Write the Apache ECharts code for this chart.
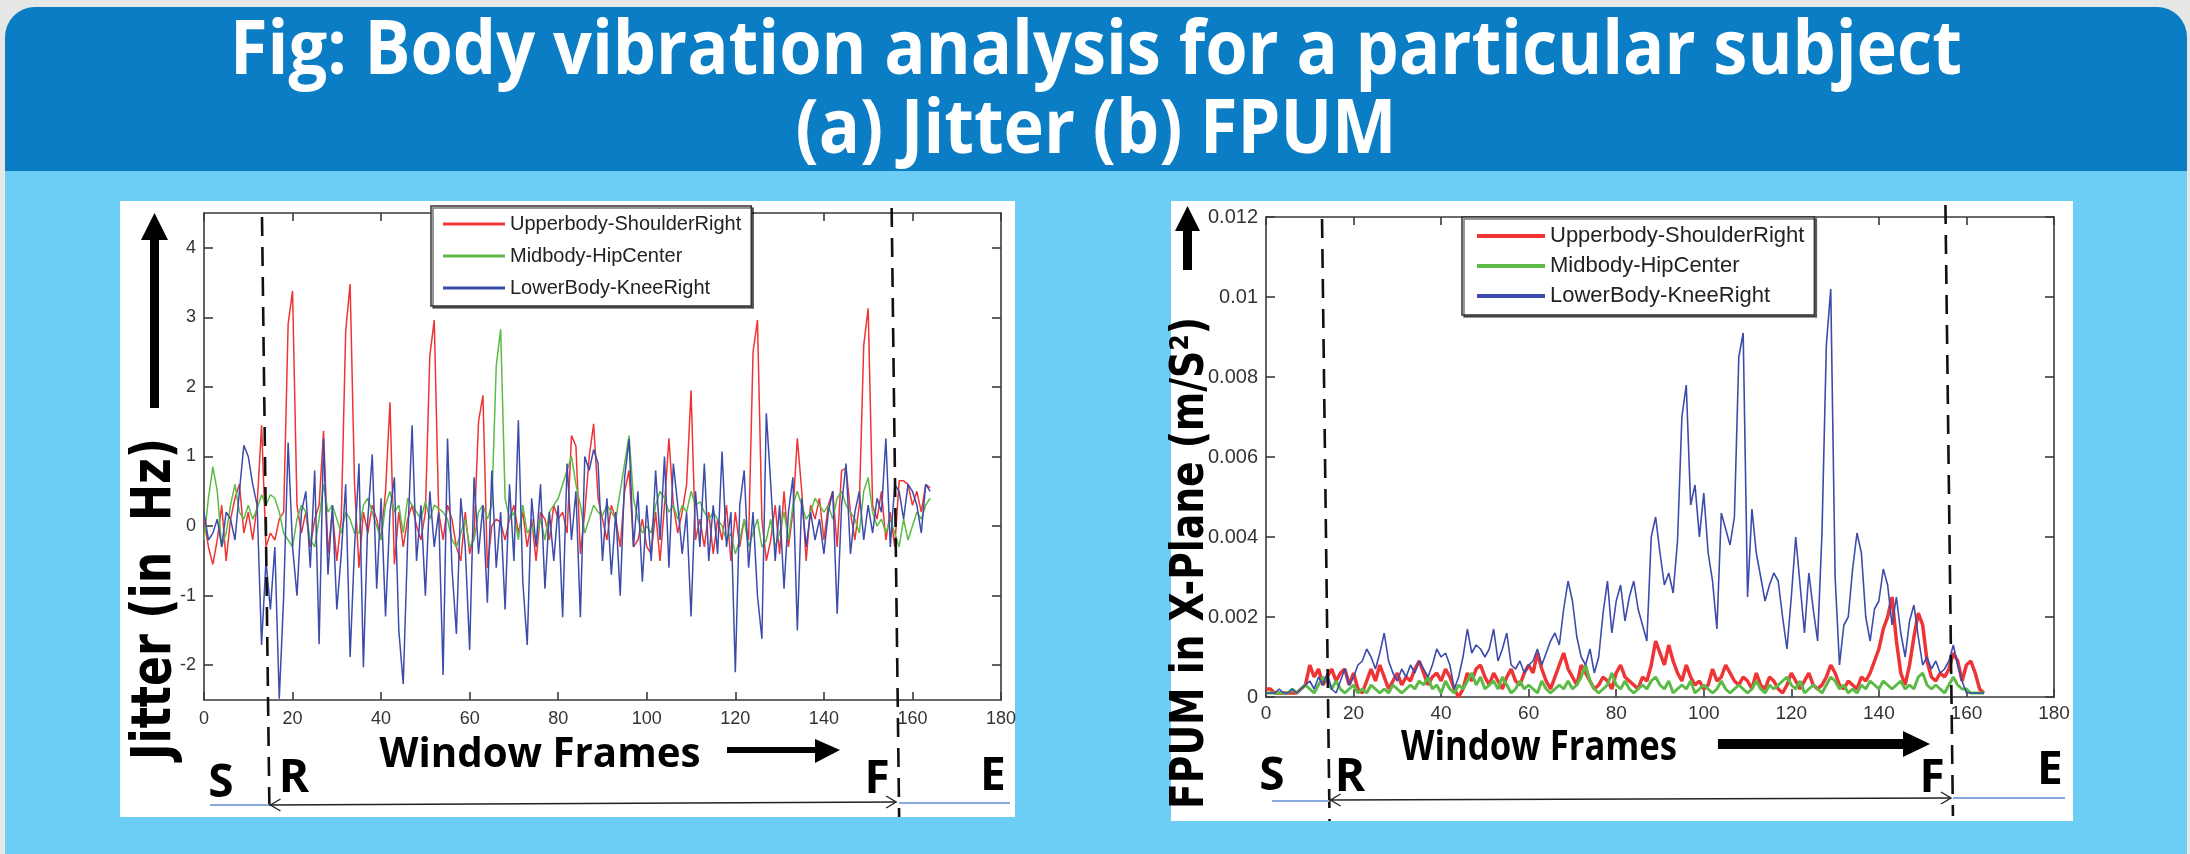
<!DOCTYPE html>
<html><head><meta charset="utf-8">
<script src="https://cdn.jsdelivr.net/npm/echarts@6/dist/echarts.min.js"></script>
<style>html,body{margin:0;padding:0;background:#e6e7e7;}#c{width:2190px;height:854px;}</style>
</head><body><div id="c"></div>
<script>
const seriesNames = ['Upperbody-ShoulderRight', 'Midbody-HipCenter', 'LowerBody-KneeRight'];
const seriesColors = ['#ee3434', '#5cba46', '#3c4cab'];
const xTicks = [0, 20, 40, 60, 80, 100, 120, 140, 160, 180];
const jitterTicks = [-2, -1, 0, 1, 2, 3, 4];
const fpumTicks = [0, 0.002, 0.004, 0.006, 0.008, 0.01, 0.012];
const jitterPhase = [13.1, 155.3];   // R and F frames
const fpumPhase = [12.8, 155.2];

const jitterUpper = [
0.1,-0.3,-0.55,-0.2,0.3,-0.5,0.1,0.4,0.6,-0.1,
0.2,-0.2,0.3,1.45,-0.3,-0.1,-0.2,0.1,0.2,2.9,
3.38,0.3,-0.1,0.2,-0.3,0.1,0.3,1.37,-0.4,0.2,
-0.5,0.1,2.8,3.48,0.6,-0.6,0.2,-0.1,0.3,0.1,
-0.2,0.5,1.78,-0.55,0.2,-0.3,0.1,0.3,0,-0.2,
0.2,2.45,2.96,0.2,-0.2,0.3,0.1,-0.3,-0.5,0.2,
-0.4,-0.1,1.5,1.88,-0.6,0,0.1,0.05,-0.2,0.1,
0.3,-0.1,0.2,-0.3,0.1,-0.5,0.2,0.1,-0.2,0.3,
0.1,0.2,-0.1,1.3,1.15,-0.4,0.2,1.0,1.47,0.4,
0.1,-0.2,0.3,0.1,-0.3,0.5,0.8,-0.3,-0.2,0.1,
-0.3,-0.4,0.2,-0.5,0.3,1.26,0.3,-0.1,0.2,0.6,
1.95,-0.2,0.1,-0.3,0.2,-0.4,0.1,-0.2,0.3,-0.5,
0.2,-0.3,0.1,-0.2,2.5,2.96,0.1,-0.5,-0.2,0.3,
-0.4,0.5,-0.3,0.2,1.26,0.5,-0.5,0.3,0.1,0.4,
-0.2,0.3,0.5,-0.3,0.8,0.83,0.2,-0.2,0.3,2.6,
3.13,0.3,0.1,0.5,-0.2,0.2,-0.3,0.65,0.65,0.6,
0.3,0.5,0.2,0.6,0.55];
const jitterMid = [
-0.2,0.4,0.85,0.5,-0.3,-0.1,0.3,0.6,0.2,0.1,
0.3,0.1,0.25,0.45,0.3,0.45,0.4,0.2,-0.1,-0.2,
-0.3,0.1,0.3,0.2,-0.2,-0.3,0.1,0.6,0.2,0.3,
0.1,-0.1,0.2,0.1,-0.1,-0.1,0.3,0.4,0.2,0,
-0.2,0.3,0.5,0.2,0.3,-0.1,0.4,0.3,0.2,0.1,
0.35,0.1,0.3,0.25,0.2,0.1,-0.2,-0.3,-0.1,0.1,
-0.3,-0.2,0.2,0.3,0.1,0.3,2.3,2.83,0.4,0.1,
0.2,-0.2,0.3,-0.1,0,-0.2,0.1,-0.2,0.2,0.3,
0.4,0.6,0.8,1.0,0.6,0.3,-0.1,0.1,0.3,0.2,
0.15,0.3,0.2,0.1,0.5,0.9,1.3,0.4,0.1,-0.1,
0,-0.1,0.3,0.5,0.4,0.2,0.3,0.1,0.3,0.2,
0.5,0.3,0.35,0.2,0.1,0.2,0.1,0,-0.2,-0.1,
-0.4,-0.2,0.1,-0.3,-0.1,0.1,-0.3,-0.2,0.1,-0.3,
-0.1,0.2,-0.2,0.3,0.5,0.3,0.1,0.2,0.4,0.3,
0.2,0.3,0.1,0.4,0.5,0.3,0.2,0.1,-0.1,0.5,
0.7,0.2,0,0.1,-0.1,0.1,-0.1,-0.3,0.1,-0.2,
0,0.2,0.1,0.3,0.4];
const jitterLower = [
0.2,-0.2,-0.1,0.1,-0.3,0.2,0.1,-0.2,0.5,1.16,
1.0,0.6,0.3,-1.71,-0.5,-1.2,-0.3,-2.48,-1.0,1.2,
-0.3,-1.0,0.2,0.5,-0.6,0.8,-1.7,1.26,-0.7,0.3,
-1.2,-0.4,0.6,-1.88,-0.3,0.9,-2.03,0.1,1.03,-0.9,
0.4,-1.3,0.2,0.7,-1.5,-2.27,-0.2,1.45,-0.5,0.3,
-1.0,0.5,-0.3,0.2,-2.14,1.26,-0.6,-1.55,0.4,-0.3,
-1.78,0.7,-0.4,0.3,-1.1,0.8,-0.6,0.2,-1.2,0.6,
-0.5,1.52,-0.8,-1.71,0.4,-0.3,0.6,-0.9,0.2,-0.5,
0.3,-1.31,0.9,-0.2,0.5,-1.31,1.0,0.8,1.1,0.9,
-0.5,0.4,-0.7,0.2,-1.0,0.7,1.25,-0.3,0.5,-0.8,
0.3,-0.5,0.8,-0.2,1.0,-0.6,0.9,0.3,-0.4,0.2,
-1.3,0.5,-0.3,0.9,-0.5,0.3,-0.4,1.07,-0.3,0.2,
-2.1,0.3,0.8,-0.6,0.2,-1.0,-1.62,1.62,0.6,-0.5,
0.3,-0.9,0.2,0.7,-1.5,0.4,-0.3,0.2,-0.2,0.1,
-0.4,0.2,0.5,-1.26,0.3,0.9,-0.4,0.2,0.5,-0.2,
0.3,-0.1,0.4,0.2,1.26,-0.3,0.6,0.5,0.1,0.6,
0.5,0.3,-0.1,0.6,0.5];

const fpumUpper = [
0.0002,0.0002,0.0001,0.0001,0.0001,0.0001,0.0001,0.0001,0.0002,0.0003,
0.0008,0.0005,0.0007,0.0003,0.0005,0.0007,0.0004,0.0006,0.0007,0.0003,
0.0006,0.0002,0.0001,0.0004,0.0007,0.0004,0.0008,0.0005,0.0002,0.0004,
0.0006,0.0003,0.0005,0.0004,0.0007,0.0009,0.0006,0.0003,0.0005,0.0006,
0.0004,0.0007,0.0005,0.0002,0.0000,0.0002,0.0006,0.0004,0.0007,0.0008,
0.0005,0.0003,0.0006,0.0004,0.0002,0.0005,0.0007,0.0004,0.0003,0.0006,
0.0008,0.0006,0.0011,0.0007,0.0004,0.0002,0.0005,0.0008,0.0011,0.0007,
0.0005,0.0003,0.0008,0.0006,0.0004,0.0002,0.0003,0.0005,0.0004,0.0002,
0.0006,0.0008,0.0005,0.0004,0.0003,0.0002,0.0005,0.0004,0.0008,0.0014,
0.0011,0.0008,0.0013,0.0009,0.0006,0.0004,0.0008,0.0005,0.0003,0.0004,
0.0002,0.0003,0.0007,0.0004,0.0005,0.0008,0.0006,0.0004,0.0003,0.0005,
0.0004,0.0002,0.0006,0.0003,0.0002,0.0005,0.0004,0.0002,0.0001,0.0003,
0.0006,0.0004,0.0002,0.0004,0.0006,0.0003,0.0002,0.0003,0.0005,0.0008,
0.0006,0.0003,0.0002,0.0004,0.0003,0.0002,0.0005,0.0004,0.0006,0.0009,
0.0012,0.0017,0.0020,0.0025,0.0014,0.0006,0.0003,0.0008,0.0015,0.0021,
0.0018,0.0009,0.0005,0.0004,0.0006,0.0005,0.0007,0.0011,0.0009,0.0004,
0.0008,0.0009,0.0006,0.0002,0.0001];
const fpumMid = [
0.0001,0.0001,0.0001,0.0001,0.0001,0.0001,0.0002,0.0001,0.0002,0.0003,
0.0002,0.0001,0.0003,0.0005,0.0004,0.0002,0.0004,0.0002,0.0001,0.0002,
0.0003,0.0001,0.0002,0.0001,0.0003,0.0002,0.0001,0.0002,0.0001,0.0003,
0.0002,0.0001,0.0002,0.0003,0.0002,0.0004,0.0003,0.0005,0.0002,0.0003,
0.0001,0.0004,0.0002,0.0001,0.0003,0.0002,0.0004,0.0006,0.0003,0.0005,
0.0002,0.0003,0.0004,0.0002,0.0005,0.0003,0.0001,0.0002,0.0004,0.0002,
0.0003,0.0002,0.0001,0.0004,0.0002,0.0001,0.0002,0.0003,0.0002,0.0004,
0.0002,0.0003,0.0005,0.0008,0.0004,0.0002,0.0001,0.0002,0.0003,0.0006,
0.0003,0.0002,0.0004,0.0002,0.0001,0.0002,0.0003,0.0002,0.0004,0.0005,
0.0003,0.0002,0.0004,0.0001,0.0002,0.0003,0.0002,0.0004,0.0001,0.0002,
0.0003,0.0002,0.0001,0.0002,0.0004,0.0002,0.0001,0.0002,0.0003,0.0002,
0.0001,0.0002,0.0004,0.0002,0.0001,0.0003,0.0002,0.0003,0.0004,0.0005,
0.0003,0.0002,0.0004,0.0001,0.0002,0.0003,0.0002,0.0001,0.0003,0.0005,
0.0004,0.0002,0.0003,0.0001,0.0002,0.0001,0.0003,0.0002,0.0004,0.0003,
0.0002,0.0004,0.0003,0.0002,0.0003,0.0004,0.0002,0.0003,0.0002,0.0005,
0.0006,0.0003,0.0002,0.0003,0.0002,0.0001,0.0003,0.0005,0.0003,0.0002,
0.0002,0.0001,0.0001,0.0001,0.0001];
const fpumLower = [
0.0001,0.0001,0.0001,0.0002,0.0001,0.0001,0.0002,0.0001,0.0002,0.0003,
0.0004,0.0002,0.0005,0.0003,0.0006,0.0002,0.0001,0.0004,0.0007,0.0003,
0.0005,0.0008,0.0009,0.0012,0.0010,0.0007,0.0011,0.0016,0.0009,0.0006,
0.0004,0.0007,0.0005,0.0008,0.0006,0.0009,0.0007,0.0005,0.0008,0.0012,
0.0010,0.0011,0.0008,0.0002,0.0005,0.0010,0.0017,0.0011,0.0013,0.0012,
0.0010,0.0012,0.0017,0.0009,0.0012,0.0016,0.0008,0.0007,0.0009,0.0006,
0.0008,0.0009,0.0012,0.0008,0.0011,0.0014,0.0016,0.0013,0.0022,0.0029,
0.0024,0.0015,0.0010,0.0008,0.0012,0.0006,0.0010,0.0021,0.0029,0.0016,
0.0024,0.0028,0.0019,0.0025,0.0029,0.0022,0.0018,0.0014,0.0040,0.0045,
0.0036,0.0028,0.0031,0.0026,0.0039,0.0070,0.0078,0.0048,0.0053,0.0040,
0.0051,0.0036,0.0029,0.0017,0.0046,0.0042,0.0038,0.0045,0.0085,0.0091,
0.0025,0.0047,0.0036,0.0030,0.0024,0.0028,0.0031,0.0029,0.0020,0.0012,
0.0025,0.0040,0.0028,0.0016,0.0031,0.0022,0.0014,0.0041,0.0088,0.0102,
0.0030,0.0008,0.0018,0.0020,0.0032,0.0041,0.0036,0.0020,0.0014,0.0022,
0.0024,0.0032,0.0028,0.0018,0.0025,0.0016,0.0010,0.0019,0.0023,0.0015,
0.0008,0.0010,0.0007,0.0009,0.0006,0.0007,0.0009,0.0013,0.0008,0.0004,
0.0001,0.0001,0.0001,0.0001,0.0001];

const frames = jitterUpper.map((_, i) => i);
const pairs = arr => frames.map(i => [i, arr[i]]);

const cvs = document.createElement('canvas').getContext('2d');
function fit(str, font, target) { cvs.font = font; return target / cvs.measureText(str).width; }
function txt(str, x, y, size, family, target, extra, fill) {
  const s = target ? fit(str, 'bold ' + size + 'px ' + family, target) : 1;
  return Object.assign({ type: 'text', x: x, y: y, scaleX: s, z: 100,
    style: { text: str, fontSize: size, fontFamily: family, fontWeight: 'bold', fill: fill || '#000',
      textAlign: 'center', textVerticalAlign: 'middle', align: 'center', verticalAlign: 'middle' } }, extra || {});
}
function ln(x1, y1, x2, y2, stroke, w, dash) {
  return { type: 'line', z: 100, shape: { x1: x1, y1: y1, x2: x2, y2: y2 },
    style: { stroke: stroke, lineWidth: w, lineDash: dash || null } };
}
function poly(points, fill) { return { type: 'polygon', z: 100, shape: { points: points }, style: { fill: fill } }; }
function pl(points, stroke, w) { return { type: 'polyline', z: 100, shape: { points: points }, style: { stroke: stroke, lineWidth: w, fill: null } }; }
function rect(x, y, w, h, fill, r) { return { type: 'rect', z: -10, shape: { x: x, y: y, width: w, height: h, r: r || 0 }, style: { fill: fill } }; }

const axisColor = '#3a3a3a';
const tickFont = '"Liberation Sans", Arial, sans-serif';
function xAx(grid, pos, show, size, margin) {
  return { gridIndex: grid, type: 'value', min: 0, max: 180, position: pos,
    axisLine: { show: true, onZero: false, lineStyle: { color: axisColor, width: 1.6 } },
    axisTick: { show: true, inside: true, length: 8, customValues: xTicks, lineStyle: { color: axisColor, width: 1.6 } },
    axisLabel: { show: show, customValues: xTicks, fontSize: size, color: '#333', fontFamily: tickFont, margin: margin },
    splitLine: { show: false } };
}
function yAx(grid, pos, show, min, max, ticks, size) {
  return { gridIndex: grid, type: 'value', min: min, max: max, position: pos,
    axisLine: { show: true, onZero: false, lineStyle: { color: axisColor, width: 1.6 } },
    axisTick: { show: true, inside: true, length: 9, customValues: ticks, lineStyle: { color: axisColor, width: 1.6 } },
    axisLabel: { show: show, customValues: ticks, fontSize: size, color: '#333', fontFamily: tickFont, margin: 8 },
    splitLine: { show: false } };
}
function line(name, arr, xi, yi, color, w) {
  return { type: 'line', name: name, xAxisIndex: xi, yAxisIndex: yi, data: pairs(arr),
    showSymbol: false, symbol: 'none', animation: false, color: color,
    lineStyle: { color: color, width: w }, itemStyle: { color: color } };
}
function legend(left, top, iw, ih, gap, fs, pad) {
  return { left: left, top: top, orient: 'vertical', data: seriesNames, icon: 'rect', itemWidth: iw, itemHeight: ih,
    itemGap: gap, padding: pad, backgroundColor: '#fff', borderColor: '#333', borderWidth: 1.5,
    shadowColor: 'rgba(0,0,0,0.55)', shadowOffsetX: 2, shadowOffsetY: 2, shadowBlur: 0, selectedMode: false, z: 20,
    textStyle: { fontSize: fs, fontFamily: tickFont, color: '#222' } };
}

const chart = echarts.init(document.getElementById('c'), null, { width: 2190, height: 854 });
chart.setOption({
  animation: false,
  grid: [{ left: 204, top: 213, width: 797, height: 487 }, { left: 1266, top: 217, width: 788, height: 480 }],
  xAxis: [xAx(0, 'bottom', true, 18, 10), xAx(0, 'top', false, 18, 10), xAx(1, 'bottom', true, 19, 7), xAx(1, 'top', false, 19, 7)],
  yAxis: [yAx(0, 'left', true, -2.5, 4.5, jitterTicks, 18), yAx(0, 'right', false, -2.5, 4.5, jitterTicks, 18),
          yAx(1, 'left', true, 0, 0.012, fpumTicks, 20), yAx(1, 'right', false, 0, 0.012, fpumTicks, 20)],
  legend: [legend(431, 206, 62, 3, 12, 20, [8, 10, 8, 12]), legend(1462, 217, 68, 4, 8, 22, [8, 10, 8, 15])],
  series: [
    line(seriesNames[0], jitterUpper, 0, 0, seriesColors[0], 1.5),
    line(seriesNames[1], jitterMid, 0, 0, seriesColors[1], 1.5),
    line(seriesNames[2], jitterLower, 0, 0, seriesColors[2], 1.5),
    line(seriesNames[0], fpumUpper, 2, 2, seriesColors[0], 3.5),
    line(seriesNames[1], fpumMid, 2, 2, seriesColors[1], 3),
    line(seriesNames[2], fpumLower, 2, 2, seriesColors[2], 1.6)
  ]
});

const px = (xi, v) => chart.convertToPixel({ xAxisIndex: xi }, v);
const lR = px(0, jitterPhase[0]), lF = px(0, jitterPhase[1]);
const rR = px(2, fpumPhase[0]), rF = px(2, fpumPhase[1]);
const slant = 7.5;
const dash = [19, 11];
const blueLine = '#86a8dc';
const els = [
  rect(5, 7, 2182, 200, '#0a7dc4', [30, 30, 0, 0]),
  rect(5, 171, 2182, 683, '#6dcef5'),
  rect(120, 201, 895, 616, '#ffffff'),
  rect(1171, 201, 902, 620, '#ffffff'),
  txt('Fig: Body vibration analysis for a particular subject', 1096, 52, 76, '"Open Sans"', 1732, null, '#fff'),
  txt('(a) Jitter (b) FPUM', 1096, 131, 76, '"Open Sans"', 601, null, '#fff'),
  // dashed phase lines
  ln(lR, 217, lR + slant, 817, '#111', 2.6, dash),
  ln(lF, 208, lF + slant, 817, '#111', 2.6, dash),
  ln(rR, 219, rR + slant, 821, '#111', 2.6, dash),
  ln(rF, 205, rF + slant, 816, '#111', 2.6, dash),
  // axis titles
  txt('Jitter (in  Hz)', 155, 599, 56, '"DejaVu Sans"', 322, { rotation: Math.PI / 2 }),
  txt('FPUM in X-Plane (m/S\u00b2)', 1191, 563, 46, '"DejaVu Sans"', 492, { rotation: Math.PI / 2 }),
  // up arrows
  { type: 'rect', z: 100, shape: { x: 150, y: 236, width: 9, height: 172 }, style: { fill: '#000' } },
  poly([[141, 240], [168, 240], [154.5, 213]], '#000'),
  { type: 'rect', z: 100, shape: { x: 1183, y: 228, width: 9, height: 42 }, style: { fill: '#000' } },
  poly([[1175, 231], [1200, 231], [1187.5, 206]], '#000'),
  // window frames labels + arrows
  txt('Window Frames', 540, 755, 42, '"Open Sans"', 321),
  { type: 'rect', z: 100, shape: { x: 727, y: 747, width: 92, height: 6 }, style: { fill: '#000' } },
  poly([[815, 739], [815, 763], [840, 750]], '#000'),
  txt('Window Frames', 1539, 748, 41, '"Open Sans"', 276),
  { type: 'rect', z: 100, shape: { x: 1718, y: 739, width: 188, height: 10 }, style: { fill: '#000' } },
  poly([[1903, 731], [1903, 757], [1930, 744]], '#000'),
  // phase letters
  txt('S', 221, 784, 46, '"Open Sans"'), txt('R', 294, 779, 46, '"Open Sans"'),
  txt('F', 877, 780, 46, '"Open Sans"'), txt('E', 993, 777, 46, '"Open Sans"'),
  txt('S', 1272, 777, 46, '"Open Sans"'), txt('R', 1350, 778, 46, '"Open Sans"'),
  txt('F', 1932, 779, 46, '"Open Sans"'), txt('E', 2050, 771, 46, '"Open Sans"'),
  // bottom phase span lines
  ln(210, 805, lR + slant, 805, blueLine, 2),
  ln(lR + slant, 805, lF + slant - 3, 802, '#222', 1.6),
  pl([[lR + slant + 11, 799], [lR + slant + 1, 805], [lR + slant + 11, 811]], '#222', 1.4),
  pl([[lF + slant - 13, 796], [lF + slant - 3, 802], [lF + slant - 13, 808]], '#222', 1.4),
  ln(lF + slant, 803, 1010, 803, blueLine, 2),
  ln(1272, 801, rR + slant, 801, blueLine, 2),
  ln(rR + slant, 800, rF + slant - 2, 798, '#222', 1.6),
  pl([[rR + slant + 11, 794], [rR + slant + 1, 800], [rR + slant + 11, 806]], '#222', 1.4),
  pl([[rF + slant - 12, 792], [rF + slant - 2, 798], [rF + slant - 12, 804]], '#222', 1.4),
  ln(rF + slant, 798, 2065, 798, blueLine, 2)
];
chart.setOption({ graphic: { elements: els } });
</script></body></html>
